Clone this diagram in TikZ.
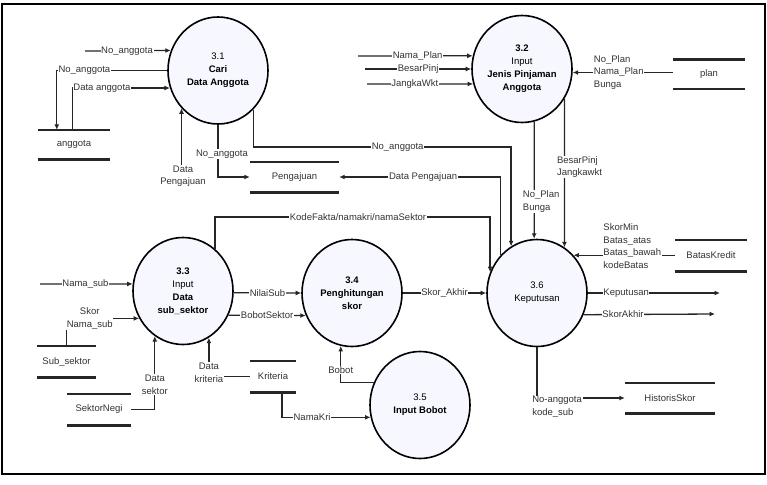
\documentclass[tikz,border=0pt]{standalone}
\usepackage{fontspec}
\setmainfont{Liberation Sans}
\usetikzlibrary{positioning,shapes,arrows.meta,calc}

\begin{document}
\begin{tikzpicture}[x=1pt,y=-1pt,
    proc/.style={ellipse, draw=black, line width=1.6pt, fill=blue!3, minimum width=100pt,
      minimum height=107pt, inner sep=0pt, align=center, font=\fontsize{9.5}{13}\selectfont},
    store/.style={inner sep=0pt, font=\fontsize{9.5}{12}\selectfont, text=black!80},
    lbl/.style={fill=white, inner sep=0.6pt, align=center, font=\fontsize{9.5}{12.5}\selectfont, text=black!80},
    flow/.style={-{Latex[length=5.5pt,width=5pt]}, line width=1.3pt, draw=black!85},
    storeline/.style={line width=2.6pt, draw=black!85}]

    \useasboundingbox (0,0) rectangle (767,484);
    \draw[line width=1.6pt] (2,4) rectangle (765,474);

    % proses
    \node[proc] (p31) at (218,70.5) {3.1\\\textbf{Cari}\\\textbf{Data Anggota}};
    \node[proc] (p32) at (522,69) {\textbf{3.2}\\Input\\\textbf{Jenis Pinjaman}\\\textbf{Anggota}};
    \node[proc] (p33) at (183,291) {\textbf{3.3}\\Input\\\textbf{Data}\\\textbf{sub\_sektor}};
    \node[proc] (p34) at (352,293) {\textbf{3.4}\\\textbf{Penghitungan}\\\textbf{skor}};
    \node[proc] (p35) at (420,405) {3.5\\\textbf{Input Bobot}};
    \node[proc] (p36) at (537,293) {3.6\\Keputusan};

    % data store
    \node[store, minimum width=72pt, minimum height=29pt] (stAnggota) at (74,144.5) {anggota};
    \node[store, minimum width=89pt, minimum height=30pt] (stPengajuan) at (294.5,177) {Pengajuan};
    \node[store, minimum width=72pt, minimum height=29pt] (stPlan) at (709,74.5) {plan};
    \node[store, minimum width=72pt, minimum height=31pt] (stBatas) at (711,255.5) {BatasKredit};
    \node[store, minimum width=59pt, minimum height=31pt] (stSubSektor) at (66.5,361.5) {Sub\_sektor};
    \node[store, minimum width=64pt, minimum height=31pt] (stSektorNegi) at (99,409.5) {SektorNegi};
    \node[store, minimum width=46pt, minimum height=31pt] (stKriteria) at (273,376.5) {Kriteria};
    \node[store, minimum width=90pt, minimum height=30pt] (stHistoris) at (670,398) {HistorisSkor};
    \foreach \s in {stAnggota,stPengajuan,stPlan,stBatas,stSubSektor,stSektorNegi,stKriteria,stHistoris}
        \draw[storeline] (\s.north west) -- (\s.north east) (\s.south west) -- (\s.south east);

    % ujung bebas
    \coordinate (inNoAgt) at (85,51);
    \coordinate (inNamaPlan) at (358,56);
    \coordinate (inBesar) at (365,69);
    \coordinate (inJangka) at (367,84);
    \coordinate (inNamaSub) at (40,284);
    \coordinate (outKep) at (720,293);
    \coordinate (outSkor) at (715,314);

    % 3.1
    \draw[flow] (inNoAgt) -- node[lbl,pos=0.49]{No\_anggota} (p31.157);
    \draw[flow] (p31.west) -| node[lbl,pos=0.375]{No\_anggota} ([xshift=19pt]stAnggota.north west);
    \draw[flow] ([xshift=35pt]stAnggota.north west) |- node[lbl,pos=0.65]{Data anggota} (p31.200);
    \node[lbl] (lblDP) at (183,176) {Data\\Pengajuan};
    \draw[flow] (lblDP.north -| p31.226) -- (p31.226);
    \draw[flow] (p31.south) |- node[lbl,pos=0.28,xshift=4pt]{No\_anggota} (stPengajuan.west);
    \draw[flow] (p31.312) |- node[lbl,pos=0.78]{No\_anggota} (p36.119 |- 0,147) -- (p36.119);

    % 3.2
    \draw[flow] (inNamaPlan) -- node[lbl,pos=0.52]{Nama\_Plan} (p32.165);
    \draw[flow] (inBesar) -- node[lbl,pos=0.5]{BesarPinj} (p32.west);
    \draw[flow] (inJangka) -- node[lbl,pos=0.45]{JangkaWkt} (p32.197);
    \draw[flow] (stPlan.west |- p32.356) -- node[lbl,align=left,pos=0.54]{No\_Plan\\Nama\_Plan\\Bunga} (p32.356);
    \draw[flow] (p32.283) -- node[lbl,align=left,pos=0.68,xshift=7pt]{No\_Plan\\Bunga} (p36.93);
    \draw[flow] (p32.325) -- node[lbl,align=left,pos=0.46,xshift=15pt]{BesarPinj\\Jangkawkt} (p36.59);

    % 3.3
    \draw[flow] (inNamaSub) -- node[lbl,pos=0.49]{Nama\_sub} (p33.172);
    \draw[flow] (stSubSektor.north) |- node[lbl,pos=0.66]{Skor\\Nama\_sub} (p33.212);
    \draw[flow] (stSektorNegi.east) -| node[lbl,pos=0.67]{Data\\sektor} (p33.238);
    \draw[flow] (stKriteria.west) -| node[lbl,pos=0.55]{Data\\kriteria} (p33.299);
    \draw[flow] (p33.53) |- node[lbl,pos=0.76]{KodeFakta/namakri/namaSektor} (p36.156 |- 0,217) -- (p36.156);
    \draw[flow] (p33.358) -- node[lbl]{NilaiSub} (p34.west);
    \draw[flow] (p33.332) -- node[lbl]{BobotSektor} (p34.206);

    % 3.4 dan 3.5
    \draw[flow] (p34.east) -- node[lbl]{Skor\_Akhir} (p36.west);
    \draw[flow] (p35.154) -| node[lbl,pos=0.67]{Bobot} (p34.258);
    \draw[flow] ([xshift=9pt]stKriteria.south) |- node[lbl,pos=0.67]{NamaKri} (p35.194);

    % 3.6
    \draw[flow] (p36.134) |- node[lbl,pos=0.74]{Data Pengajuan} (stPengajuan.east);
    \draw[flow] (stBatas.west |- p36.46) -- node[lbl,align=left,pos=0.42,yshift=9pt]{SkorMin\\Batas\_atas\\Batas\_bawah\\kodeBatas} (p36.46);
    \draw[flow] (p36.east) -- node[lbl,pos=0.29]{Keputusan} (outKep);
    \draw[flow] (p36.335) -- node[lbl,pos=0.3]{SkorAkhir} (outSkor);
    \draw[flow] (p36.south) |- node[lbl,align=left,pos=0.5,anchor=north west,xshift=-6pt,yshift=3pt]{No-anggota\\kode\_sub} (stHistoris.west);
\end{tikzpicture}
\end{document}
